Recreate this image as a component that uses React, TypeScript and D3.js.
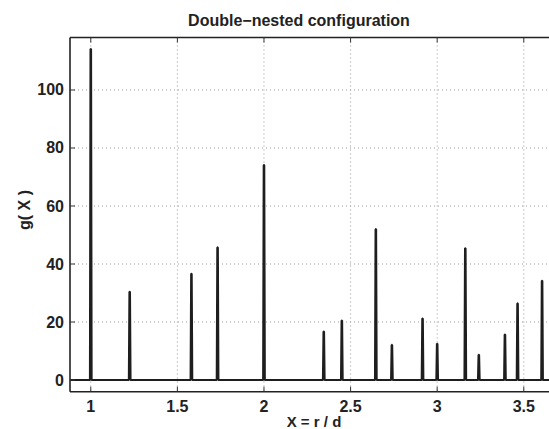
import React from "react";
import * as d3 from "d3";

const peakX = [1, 1.2247, 1.5811, 1.7321, 2, 2.3452, 2.4495, 2.6458, 2.7386, 2.9155, 3, 3.1623, 3.2404, 3.3912, 3.4641, 3.6056];
const peakH = [114.1, 30.4, 36.6, 45.7, 74.1, 16.7, 20.5, 52, 12.1, 21.2, 12.5, 45.4, 8.7, 15.7, 26.4, 34.2];
const xTicks = [1, 1.5, 2, 2.5, 3, 3.5];
const xTickLabels = ["1", "1.5", "2", "2.5", "3", "3.5"];
const yTicks = [0, 20, 40, 60, 80, 100];
const yTickLabels = ["0", "20", "40", "60", "80", "100"];

const W = 549;
const H = 429;
const left = 70;
const top = 37.5;
const bottom = 391.7;

export default function App() {
  const x = d3.scaleLinear().domain([0.88, 3.7]).range([left, left + 2.82 * 173.2]);
  const y = d3.scaleLinear().domain([-4.03, 118.1]).range([bottom, top]);
  const hw = 0.0045;
  const tw = 0.0012;
  const pts: [number, number][] = [[0.88, 0]];
  peakX.forEach((px, i) => {
    pts.push([px - hw, 0], [px - tw, peakH[i]], [px + tw, peakH[i]], [px + hw, 0]);
  });
  pts.push([3.7, 0]);
  const line = d3.line<[number, number]>().x((d) => x(d[0])).y((d) => y(d[1]));
  const font = "'Liberation Sans', Arial, Helvetica, sans-serif";
  const right = W + 5;
  return (
    <svg width={W} height={H} style={{ position: "absolute", left: 0, top: 0, background: "#fff" }} fontFamily={font}>
      <defs>
        <clipPath id="plot">
          <rect x={left} y={top} width={right - left} height={bottom - top} />
        </clipPath>
      </defs>
      <rect x={0} y={0} width={W} height={H} fill="#fff" />
      {/* grid */}
      <g stroke="#9a9a9a" strokeWidth={1} strokeDasharray="1,3">
        {xTicks.map((t) => (
          <line key={"gx" + t} x1={x(t)} x2={x(t)} y1={top} y2={bottom} />
        ))}
        {yTicks.map((t) => (
          <line key={"gy" + t} x1={left} x2={right} y1={y(t)} y2={y(t)} />
        ))}
      </g>
      {/* data */}
      <path d={line(pts) || ""} fill="none" stroke="#1e1e1e" strokeWidth={2.2} strokeLinejoin="bevel" clipPath="url(#plot)" />
      {/* axes box */}
      <g stroke="#222" strokeWidth={1.6} fill="none">
        <line x1={left} x2={right} y1={top} y2={top} />
        <line x1={left} x2={right} y1={bottom} y2={bottom} />
        <line x1={left} x2={left} y1={top} y2={bottom} />
      </g>
      {/* ticks */}
      <g stroke="#333" strokeWidth={1}>
        {xTicks.map((t) => (
          <g key={"tx" + t}>
            <line x1={x(t)} x2={x(t)} y1={bottom} y2={bottom - 5} />
            <line x1={x(t)} x2={x(t)} y1={top} y2={top + 5} />
          </g>
        ))}
        {yTicks.map((t) => (
          <line key={"ty" + t} x1={left} x2={left + 5} y1={y(t)} y2={y(t)} />
        ))}
      </g>
      {/* tick labels */}
      <g fontSize={16} fontWeight="bold" fill="#222">
        {xTicks.map((t, i) => (
          <text key={"lx" + t} x={x(t)} y={412} textAnchor="middle">
            {xTickLabels[i]}
          </text>
        ))}
        {yTicks.map((t, i) => (
          <text key={"ly" + t} x={64} y={y(t)} textAnchor="end" dominantBaseline="central">
            {yTickLabels[i]}
          </text>
        ))}
      </g>
      <text x={299} y={26} textAnchor="middle" fontSize={16} fontWeight="bold" fill="#222">
        Double−nested configuration
      </text>
      <text x={314} y={427} textAnchor="middle" fontSize={15} fontWeight="bold" fill="#222">
        X = r / d
      </text>
      <text
        transform={`translate(30,210) rotate(-90)`}
        textAnchor="middle"
        fontSize={16}
        fontWeight="bold"
        fill="#222"
      >
        g( X )
      </text>
    </svg>
  );
}
